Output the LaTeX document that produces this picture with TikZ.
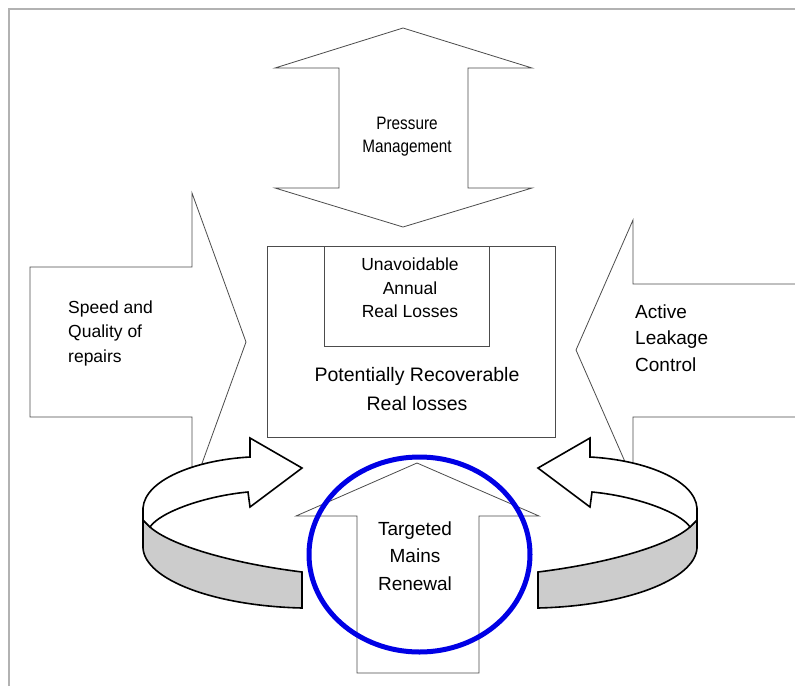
\documentclass[tikz,border=0pt]{standalone}
\usepackage{fontspec}
\setmainfont{Liberation Sans}
\newfontfamily\narrowfont[FakeStretch=0.85]{Liberation Sans}

\tikzset{
  outline/.style={draw=black!70, line width=0.8pt, fill=white},
  loopband/.style={draw=black, line width=1.6pt},
  label/.style={align=center, inner sep=0pt},
}

\begin{document}
\begin{tikzpicture}[x=1pt, y=-1pt]
		\useasboundingbox (0,0) rectangle (795,686);
		\draw[gray!60, line width=1.5pt] (9,686) -- (9,9) -- (795,9);
		
		% side arrows
		\draw[outline] (30,267) -- (192,267) -- (192,193) -- (246,342) -- (192,491) -- (192,417) -- (30,417) -- cycle;
		\draw[outline] (797,284) -- (633,284) -- (633,220) -- (576,350) -- (633,480) -- (633,417) -- (797,417);
		
		% pressure arrow, up arrow, loss boxes
		\draw[outline] (403,28) -- (532,68) -- (468,68) -- (468,188) -- (532,188) -- (403,227)
			-- (275,188) -- (339,188) -- (339,68) -- (275,68) -- cycle;
		\draw[outline] (417,463) -- (539,516) -- (479,516) -- (479,673) -- (357,673) -- (357,516) -- (296,516) -- cycle;
		\draw[outline] (267,246) rectangle (555,437);
		\draw[outline] (324,246) rectangle (489,346);
		
		\foreach \s in {1,-1}
		{
			\begin{scope}[shift={(420,0)}, xscale=\s]
				\filldraw[loopband, fill=gray!40] (-277,520) -- (-277,548) .. controls (-275,580) and (-205,606) .. (-118,608)
					-- (-118,572) .. controls (-190,563) and (-250,545) .. (-270,527) -- cycle;
				\filldraw[loopband, fill=white] (-118,468) -- (-170,438) -- (-170,457) .. controls (-225,460) and (-275,480) .. (-277,508)
					-- (-277,520) -- (-270,527) .. controls (-260,512) and (-215,496) .. (-172,492) -- (-170,507) -- cycle;
			\end{scope}
		}
		
		\draw[blue!90!black, line width=5pt] (419.5,554.5) ellipse [x radius=110.5, y radius=97.5];
		
		\node[label, font=\narrowfont\fontsize{18}{23}\selectfont] (pressure) at (407,137) {Pressure\\Management};
		\node[label, align=left, anchor=west, font=\fontsize{17.5}{24.5}\selectfont] (repairs) at (68,333) {Speed and\\Quality of\\repairs};
		\node[label, align=left, anchor=west, font=\fontsize{19}{26.5}\selectfont] (leakage) at (635,338) {Active\\Leakage\\Control};
		\node[label, font=\fontsize{17.5}{23.5}\selectfont] (uarl) at (410,288) {Unavoidable\\Annual\\Real Losses};
		\node[label, font=\fontsize{19.5}{29}\selectfont] (recoverable) at (417,389) {Potentially Recoverable\\Real losses};
		\node[label, font=\fontsize{19}{27.5}\selectfont] (mains) at (415,556) {Targeted\\Mains\\Renewal};
		\end{tikzpicture}
\end{document}
